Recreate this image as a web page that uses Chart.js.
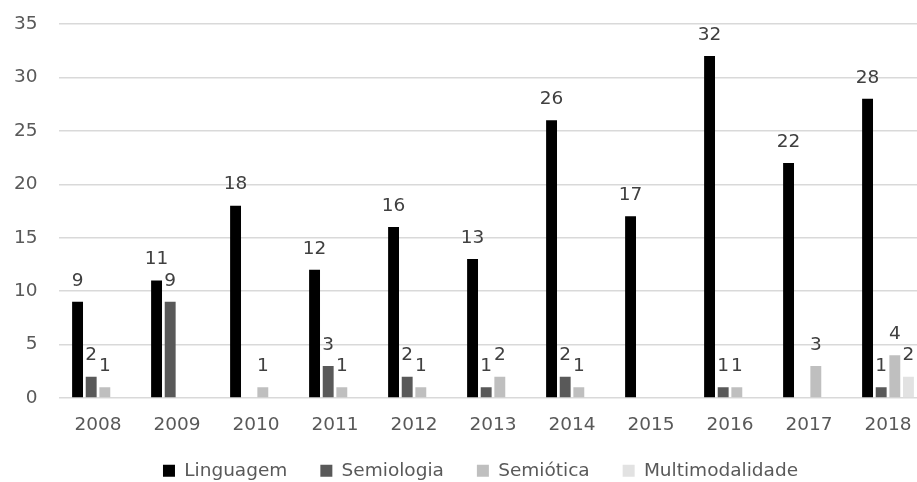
<!DOCTYPE html>
<html>
<head>
<meta charset="utf-8">
<title>Linguagem, Semiologia, Semiótica, Multimodalidade</title>
<script src="https://cdn.jsdelivr.net/npm/chart.js@4/dist/chart.umd.min.js"></script>
<style>
    html, body { margin: 0; padding: 0; background: #fff; overflow: hidden; }
    #wrap { width: 917px; height: 482px; overflow: hidden; }
</style>
</head>
<body>
<div id="wrap">
    <canvas id="chart" width="960" height="490"></canvas>
</div>
<script>
/* ── data ────────────────────────────────────────────────────── */
const years = ["2008", "2009", "2010", "2011", "2012", "2013", "2014", "2015", "2016", "2017", "2018"];
const linguagem       = [9, 11, 18, 12, 16, 13, 26, 17, 32, 22, 28];
const semiologia      = [2, 9, 0, 3, 2, 1, 2, 0, 1, 0, 1];
const semiotica       = [1, 0, 1, 1, 1, 2, 1, 0, 1, 3, 4];
const multimodalidade = [0, 0, 0, 0, 0, 0, 0, 0, 0, 0, 2];
const yTicks = [0, 5, 10, 15, 20, 25, 30, 35];

const FONT = "'DejaVu Sans', sans-serif";
const FSIZE = 18.5;

// value labels above each non-zero bar
const valueLabels = {
    id: "valueLabels",
    afterDatasetsDraw(chart) {
        const ctx = chart.ctx;
        ctx.save();
        ctx.font = FSIZE + "px " + FONT;
        ctx.fillStyle = "#404040";
        ctx.textAlign = "center";
        ctx.textBaseline = "middle";
        chart.data.datasets.forEach((ds, i) => {
            chart.getDatasetMeta(i).data.forEach((bar, j) => {
                const v = ds.data[j];
                if (!v) return;
                ctx.fillText(String(v), bar.x, bar.y - 21);
            });
        });
        ctx.restore();
    }
};

// tick labels may spill past their axis box (no clipping)
const noClip = axis => { axis._computeLabelArea = () => undefined; };

const series = [
    { label: "Linguagem",       data: linguagem,       color: "#000000" },
    { label: "Semiologia",      data: semiologia,      color: "#595959" },
    { label: "Semiótica",       data: semiotica,       color: "#bfbfbf" },
    { label: "Multimodalidade", data: multimodalidade, color: "#e2e2e2" }
];

new Chart(document.getElementById("chart"), {
    type: "bar",
    data: {
        labels: years,
        datasets: series.map(s => ({
            label: s.label,
            data: s.data,
            backgroundColor: s.color,
            borderWidth: 0,
            categoryPercentage: 0.69,
            barPercentage: 0.8
        }))
    },
    options: {
        responsive: false,
        animation: false,
        devicePixelRatio: 1,
        layout: { padding: { left: 33.5, right: 32.5, top: 24, bottom: 0 } },
        plugins: {
            legend: {
                position: "bottom",
                labels: {
                    color: "#595959",
                    font: { family: FONT, size: FSIZE },
                    boxWidth: 12,
                    boxHeight: 12,
                    padding: 33
                }
            },
            tooltip: { enabled: false }
        },
        scales: {
            x: {
                grid: { display: false, drawTicks: false },
                border: { display: false },
                ticks: {
                    color: "#595959",
                    font: { family: FONT, size: FSIZE, lineHeight: 1 },
                    padding: 18,
                    maxRotation: 0
                },
                afterFit: axis => {
                    axis.height = 30.5;
                    noClip(axis);
                }
            },
            y: {
                min: 0,
                max: 35,
                afterBuildTicks: axis => { axis.ticks = yTicks.map(v => ({ value: v })); },
                grid: { color: "#d9d9d9", lineWidth: 1.5, drawTicks: false },
                border: { display: false },
                ticks: {
                    color: "#595959",
                    font: { family: FONT, size: FSIZE },
                    padding: 21
                },
                afterFit: axis => {
                    axis.width = 25;
                    axis.paddingTop = 0;
                    axis.paddingBottom = 0;
                    noClip(axis);
                }
            }
        }
    },
    plugins: [valueLabels]
});
</script>
</body>
</html>
